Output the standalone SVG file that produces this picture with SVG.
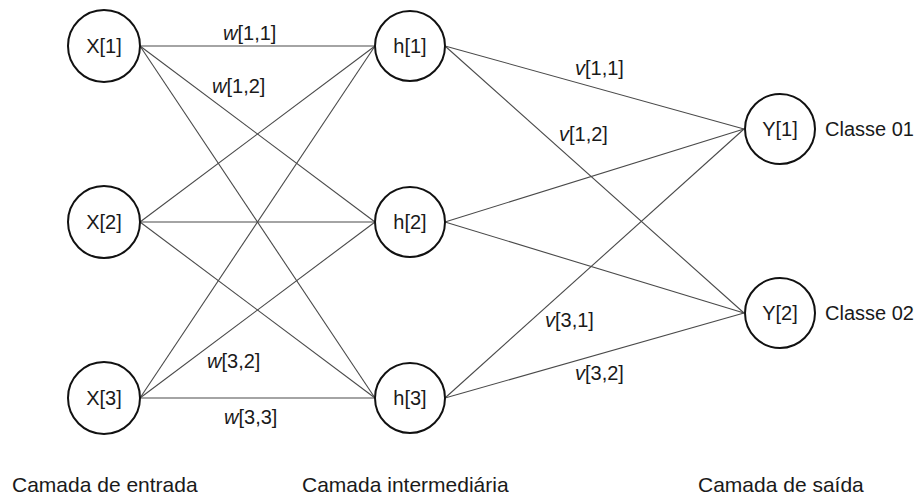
<svg xmlns="http://www.w3.org/2000/svg" width="916" height="498" viewBox="0 0 916 498">
<style>
text{font-family:"Liberation Sans",Arial,sans-serif;fill:#1a1a1a;}
.n circle{fill:#fff;stroke:#111;stroke-width:2;}
.n text{font-size:20px;text-anchor:middle;}
.w{font-size:20px;}
.w tspan.i{font-style:italic;}
.lbl{font-size:20px;}
.layer{font-size:21px;}
#edges line{stroke:#4a4a4a;stroke-width:1.1;}
</style>
<rect width="916" height="498" fill="#fff"/>
<g id="edges">
<line x1="140" y1="46" x2="375" y2="46"/>
<line x1="140" y1="46" x2="375" y2="222"/>
<line x1="140" y1="46" x2="375" y2="398"/>
<line x1="140" y1="222" x2="375" y2="46"/>
<line x1="140" y1="222" x2="375" y2="222"/>
<line x1="140" y1="222" x2="375" y2="398"/>
<line x1="140" y1="398" x2="375" y2="46"/>
<line x1="140" y1="398" x2="375" y2="222"/>
<line x1="140" y1="398" x2="375" y2="398"/>
<line x1="445" y1="46" x2="744" y2="129"/>
<line x1="445" y1="46" x2="744" y2="313"/>
<line x1="445" y1="222" x2="744" y2="129"/>
<line x1="445" y1="222" x2="744" y2="313"/>
<line x1="445" y1="398" x2="744" y2="129"/>
<line x1="445" y1="398" x2="744" y2="313"/>
</g>
<g id="weights">
<text class="w" x="223" y="40"><tspan class="i">w</tspan>[1,1]</text>
<text class="w" x="212" y="93"><tspan class="i">w</tspan>[1,2]</text>
<text class="w" x="207" y="368"><tspan class="i">w</tspan>[3,2]</text>
<text class="w" x="224" y="424"><tspan class="i">w</tspan>[3,3]</text>
<text class="w" x="575" y="75"><tspan class="i">v</tspan>[1,1]</text>
<text class="w" x="559" y="141"><tspan class="i">v</tspan>[1,2]</text>
<text class="w" x="545" y="327"><tspan class="i">v</tspan>[3,1]</text>
<text class="w" x="575" y="380"><tspan class="i">v</tspan>[3,2]</text>
</g>
<g id="x1" class="n"><circle cx="104" cy="46" r="36"/><text x="104" y="53">X[1]</text></g>
<g id="x2" class="n"><circle cx="104" cy="222" r="36"/><text x="104" y="229">X[2]</text></g>
<g id="x3" class="n"><circle cx="104" cy="398" r="36"/><text x="104" y="405">X[3]</text></g>
<g id="h1" class="n"><circle cx="410" cy="46" r="35"/><text x="410" y="53">h[1]</text></g>
<g id="h2" class="n"><circle cx="410" cy="222" r="35"/><text x="410" y="229">h[2]</text></g>
<g id="h3" class="n"><circle cx="410" cy="398" r="35"/><text x="410" y="405">h[3]</text></g>
<g id="y1" class="n"><circle cx="780" cy="129" r="35"/><text x="780" y="136">Y[1]</text></g>
<g id="y2" class="n"><circle cx="780" cy="313" r="35"/><text x="780" y="320">Y[2]</text></g>
<text class="lbl" x="825" y="136">Classe 01</text>
<text class="lbl" x="825" y="320">Classe 02</text>
<text class="layer" x="12" y="492">Camada de entrada</text>
<text class="layer" x="302" y="492">Camada intermediária</text>
<text class="layer" x="698" y="492">Camada de saída</text>
</svg>
